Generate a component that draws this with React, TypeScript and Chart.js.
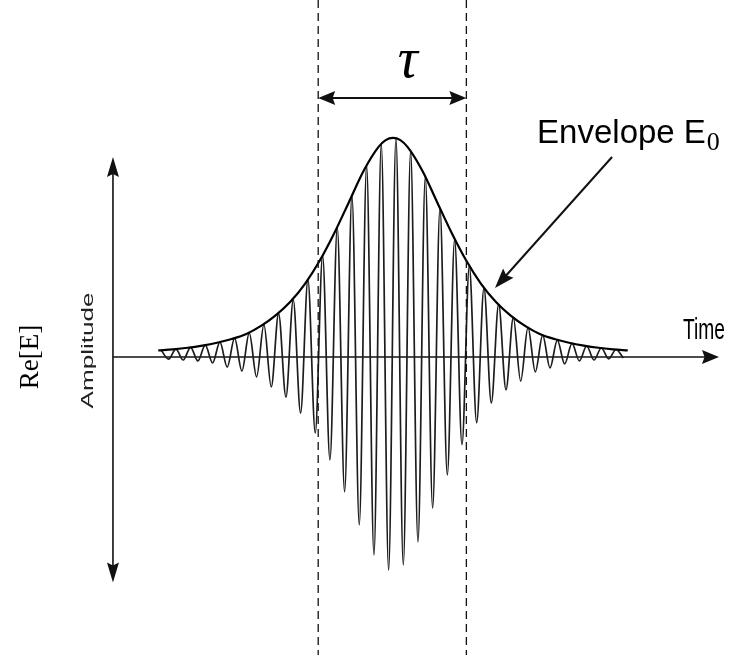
import React, { useEffect, useRef } from "react";
import { Chart, registerables } from "chart.js";

Chart.register(...registerables);

// ---- Data (time in carrier periods, amplitude normalised to envelope peak) ----
const ENVELOPE_T = [-16, -15, -14, -13, -12, -11, -10, -9, -8, -7, -6, -5, -4, -3, -2, -1, -0.5, 0, 0.5, 1, 2, 3, 4, 5, 6, 7, 8, 9, 10, 11, 12, 13, 14, 15, 16];
const ENVELOPE_A = [0.03, 0.035, 0.042, 0.052, 0.065, 0.082, 0.105, 0.142, 0.19, 0.252, 0.334, 0.439, 0.566, 0.708, 0.85, 0.958, 0.99, 1.0, 0.99, 0.958, 0.85, 0.708, 0.566, 0.439, 0.334, 0.252, 0.19, 0.142, 0.105, 0.082, 0.065, 0.052, 0.042, 0.035, 0.03];

const PEAK_T = [-15.8, -14.8, -13.8, -12.8, -11.8, -10.8, -9.8, -8.8, -7.8, -6.8, -5.8, -4.8, -3.8, -2.8, -1.8, -0.8, 0.2, 1.2, 2.2, 3.2, 4.2, 5.2, 6.2, 7.2, 8.2, 9.2, 10.2, 11.2, 12.2, 13.2, 14.2, 15.2];
const PEAK_A = [0.031, 0.036, 0.044, 0.054, 0.068, 0.086, 0.11, 0.148, 0.198, 0.26, 0.353, 0.463, 0.592, 0.737, 0.875, 0.973, 0.998, 0.941, 0.823, 0.68, 0.537, 0.416, 0.315, 0.24, 0.18, 0.135, 0.1, 0.077, 0.062, 0.05, 0.041, 0.034];

const TROUGH_T = [-15.3, -14.3, -13.3, -12.3, -11.3, -10.3, -9.3, -8.3, -7.3, -6.3, -5.3, -4.3, -3.3, -2.3, -1.3, -0.3, 0.7, 1.7, 2.7, 3.7, 4.7, 5.7, 6.7, 7.7, 8.7, 9.7, 10.7, 11.7, 12.7, 13.7, 14.7, 15.7];
const TROUGH_A = [-0.01, -0.014, -0.018, -0.027, -0.046, -0.064, -0.091, -0.137, -0.183, -0.256, -0.347, -0.47, -0.616, -0.767, -0.904, -0.973, -0.95, -0.845, -0.69, -0.539, -0.4, -0.3, -0.21, -0.15, -0.11, -0.068, -0.05, -0.032, -0.018, -0.014, -0.009, -0.005];

// pulse duration markers (tau)
const TAU_BOUNDS = [-5.1, 5.0];

// labels
const LABEL_TAU = "\u03C4";
const LABEL_ENVELOPE = "Envelope E";
const LABEL_ENVELOPE_SUB = "0";
const LABEL_TIME = "Time";
const LABEL_AMPLITUDE = "Amplitude";
const LABEL_RE = "Re[E]";

// ---- view / annotation geometry (data units) ----
const X_RANGE = [-26.79, 22.97];
const Y_RANGE = [-1.361, 1.63];
const AXIS_T = -19.09;
const AXIS_T_END = 22.22;
const V_AXIS_TOP = 0.913;
const V_AXIS_BOTTOM = -1.03;
const TAU_ARROW_A = 1.183;
const TAU_LABEL_POS = [1.0, 1.28];
const ENV_LABEL_POS = [9.82, 0.977];
const ENV_POINTER = [14.93, 0.913, 6.95, 0.315];
const TIME_LABEL_POS = [19.77, 0.082];
const AMP_LABEL_POS = [-20.45, 0.03];
const RE_LABEL_POS = [-24.2, 0.0];

function arrowHead(ctx: CanvasRenderingContext2D, x: number, y: number, angle: number, len: number, half: number) {
  ctx.save();
  ctx.translate(x, y);
  ctx.rotate(angle);
  ctx.beginPath();
  ctx.moveTo(0, 0);
  ctx.lineTo(-len, -half);
  ctx.lineTo(-len * 0.85, 0);
  ctx.lineTo(-len, half);
  ctx.closePath();
  ctx.fill();
  ctx.restore();
}

function line(ctx: CanvasRenderingContext2D, x1: number, y1: number, x2: number, y2: number) {
  ctx.beginPath();
  ctx.moveTo(x1, y1);
  ctx.lineTo(x2, y2);
  ctx.stroke();
}

function textFit(ctx: CanvasRenderingContext2D, text: string, x: number, y: number, target?: number) {
  const w = ctx.measureText(text).width;
  ctx.save();
  ctx.translate(x, y);
  if (target) ctx.scale(target / w, 1);
  ctx.fillText(text, 0, 0);
  ctx.restore();
}

const annotations = {
  id: "annotations",
  beforeDatasetsDraw(chart: any) {
    const { ctx, scales } = chart;
    const px = (t: number) => scales.x.getPixelForValue(t);
    const py = (a: number) => scales.y.getPixelForValue(a);
    ctx.save();
    ctx.strokeStyle = "#111";
    ctx.fillStyle = "#111";
    ctx.lineWidth = 1.6;
    const ax = px(AXIS_T);
    // vertical axis with two arrowheads
    line(ctx, ax, py(V_AXIS_TOP) + 10, ax, py(V_AXIS_BOTTOM) - 10);
    arrowHead(ctx, ax, py(V_AXIS_TOP), -Math.PI / 2, 20, 6);
    arrowHead(ctx, ax, py(V_AXIS_BOTTOM), Math.PI / 2, 20, 6);
    // time axis
    const y0 = py(0);
    line(ctx, ax, y0, px(AXIS_T_END) - 10, y0);
    arrowHead(ctx, px(AXIS_T_END), y0, 0, 17, 7);
    ctx.restore();
  },
  afterDatasetsDraw(chart: any) {
    const { ctx, scales, chartArea } = chart;
    const px = (t: number) => scales.x.getPixelForValue(t);
    const py = (a: number) => scales.y.getPixelForValue(a);
    ctx.save();
    ctx.strokeStyle = "#111";
    ctx.fillStyle = "#111";
    // dashed tau lines
    ctx.lineWidth = 1.3;
    ctx.setLineDash([8, 5]);
    for (const t of TAU_BOUNDS) line(ctx, px(t), chartArea.top, px(t), chartArea.bottom);
    ctx.setLineDash([]);
    // tau double arrow
    ctx.lineWidth = 2;
    const ya = py(TAU_ARROW_A);
    line(ctx, px(TAU_BOUNDS[0]) + 10, ya, px(TAU_BOUNDS[1]) - 10, ya);
    arrowHead(ctx, px(TAU_BOUNDS[0]), ya, Math.PI, 17, 7);
    arrowHead(ctx, px(TAU_BOUNDS[1]), ya, 0, 17, 7);
    // envelope pointer arrow
    ctx.lineWidth = 2;
    const [t1, a1, t2, a2] = ENV_POINTER;
    const x1 = px(t1), y1 = py(a1), x2 = px(t2), y2 = py(a2);
    const ang = Math.atan2(y2 - y1, x2 - x1);
    line(ctx, x1, y1, x2 - Math.cos(ang) * 12, y2 - Math.sin(ang) * 12);
    arrowHead(ctx, x2, y2, ang, 20, 7);

    // texts
    ctx.textBaseline = "alphabetic";
    ctx.fillStyle = "#000";
    ctx.font = "italic 56px 'Liberation Serif', serif";
    ctx.textAlign = "center";
    ctx.fillText(LABEL_TAU, px(TAU_LABEL_POS[0]), py(TAU_LABEL_POS[1]));
    ctx.textAlign = "left";
    ctx.font = "33px 'Liberation Sans', Arial, sans-serif";
    const ex = px(ENV_LABEL_POS[0]);
    const ey = py(ENV_LABEL_POS[1]);
    ctx.fillText(LABEL_ENVELOPE, ex, ey);
    const ew = ctx.measureText(LABEL_ENVELOPE).width;
    ctx.font = "26px 'Liberation Serif', serif";
    ctx.fillText(LABEL_ENVELOPE_SUB, ex + ew + 1, ey + 7);
    // Time
    ctx.font = "30px 'Liberation Sans', Arial, sans-serif";
    textFit(ctx, LABEL_TIME, px(TIME_LABEL_POS[0]), py(TIME_LABEL_POS[1]), 42);
    // Amplitude (rotated)
    ctx.save();
    ctx.translate(px(AMP_LABEL_POS[0]), py(AMP_LABEL_POS[1]));
    ctx.rotate(-Math.PI / 2);
    ctx.font = "17px 'Liberation Sans', Arial, sans-serif";
    const aw = ctx.measureText(LABEL_AMPLITUDE).width;
    ctx.scale(116 / aw, 1);
    ctx.textAlign = "center";
    ctx.fillStyle = "#222";
    ctx.fillText(LABEL_AMPLITUDE, 0, 0);
    ctx.restore();
    // Re[E] (rotated)
    ctx.save();
    ctx.translate(px(RE_LABEL_POS[0]), py(RE_LABEL_POS[1]));
    ctx.rotate(-Math.PI / 2);
    ctx.font = "27px 'Liberation Serif', serif";
    ctx.textAlign = "center";
    ctx.fillText(LABEL_RE, 0, 0);
    ctx.restore();
    ctx.restore();
  },
};

export default function App() {
  const ref = useRef<HTMLCanvasElement | null>(null);
  useEffect(() => {
    if (!ref.current) return;
    const carrier: { x: number; y: number }[] = [];
    PEAK_T.forEach((t, i) => carrier.push({ x: t, y: PEAK_A[i] }));
    TROUGH_T.forEach((t, i) => carrier.push({ x: t, y: TROUGH_A[i] }));
    carrier.sort((a, b) => a.x - b.x);
    const envelope = ENVELOPE_T.map((t, i) => ({ x: t, y: ENVELOPE_A[i] }));
    const chart = new Chart(ref.current, {
      type: "line",
      data: {
        datasets: [
          {
            label: "Envelope",
            data: envelope,
            borderColor: "#000",
            borderWidth: 2.2,
            pointRadius: 0,
            cubicInterpolationMode: "monotone",
            fill: false,
            order: 0,
          },
          {
            label: "Re[E]",
            data: carrier,
            borderColor: "#1c1c1c",
            borderWidth: 1.7,
            pointRadius: 0,
            cubicInterpolationMode: "monotone",
            fill: false,
            order: 1,
          },
        ],
      },
      options: {
        responsive: false,
        maintainAspectRatio: false,
        animation: false,
        events: [],
        layout: { padding: 0, autoPadding: false },
        plugins: { legend: { display: false }, tooltip: { enabled: false } },
        scales: {
          x: { type: "linear", min: X_RANGE[0], max: X_RANGE[1], display: false },
          y: { type: "linear", min: Y_RANGE[0], max: Y_RANGE[1], display: false },
        },
      },
      plugins: [annotations],
    } as any);
    return () => chart.destroy();
  }, []);
  return (
    <div style={{ position: "absolute", left: 0, top: 0, width: 730, height: 655, background: "#fff" }}>
      <canvas ref={ref} width={730} height={655} style={{ display: "block", width: 730, height: 655 }} />
    </div>
  );
}
